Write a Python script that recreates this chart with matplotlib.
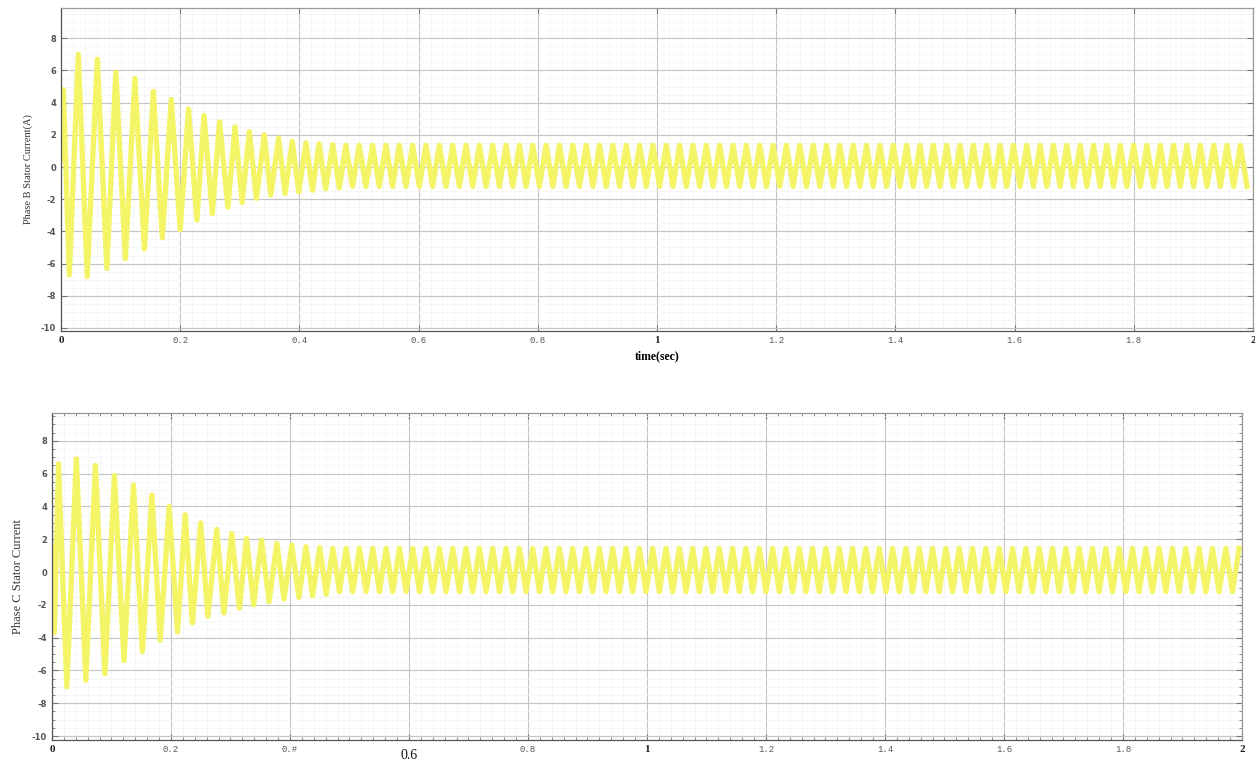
import numpy as np
import matplotlib
matplotlib.use("Agg")
import matplotlib.pyplot as plt
from matplotlib.ticker import MultipleLocator

plt.rcParams["axes.unicode_minus"] = False

# Phase B start-up current: positive peaks and negative troughs (time s, current A)
b_start = 0.5
b_peak_t = [0.004, 0.029, 0.061, 0.092, 0.124, 0.155, 0.185, 0.214, 0.240,
            0.266, 0.292, 0.316, 0.341, 0.365, 0.388, 0.411, 0.433, 0.456]
b_peak_i = [4.8, 7.0, 6.7, 5.9, 5.5, 4.7, 4.2, 3.6, 3.2,
            2.8, 2.5, 2.2, 2.0, 1.8, 1.6, 1.5, 1.45, 1.4]
b_trough_t = [0.014, 0.044, 0.077, 0.108, 0.140, 0.170, 0.200, 0.228, 0.254,
              0.280, 0.304, 0.328, 0.352, 0.376, 0.399, 0.422, 0.444, 0.467]
b_trough_i = [-6.7, -6.8, -6.3, -5.7, -5.1, -4.4, -3.9, -3.3, -2.9,
              -2.5, -2.2, -1.95, -1.75, -1.65, -1.55, -1.45, -1.35, -1.3]
b_steady = (0.478, 1.35, -1.2)   # first steady peak time, peak, trough

# Phase C start-up current
c_start = 1.5
c_peak_t = [0.011, 0.041, 0.073, 0.105, 0.137, 0.168, 0.197, 0.224, 0.250,
            0.277, 0.302, 0.327, 0.352, 0.378, 0.403, 0.427, 0.450]
c_peak_i = [6.6, 6.9, 6.5, 5.9, 5.3, 4.7, 4.0, 3.5, 3.0,
            2.6, 2.35, 2.05, 1.95, 1.75, 1.65, 1.55, 1.5]
c_trough_t = [0.004, 0.025, 0.057, 0.089, 0.121, 0.152, 0.182, 0.211, 0.236,
              0.262, 0.289, 0.315, 0.339, 0.365, 0.390, 0.415, 0.438, 0.461]
c_trough_i = [-3.7, -7.0, -6.6, -6.2, -5.4, -4.85, -4.15, -3.65, -3.1,
              -2.7, -2.5, -2.2, -2.0, -1.8, -1.65, -1.55, -1.45, -1.35]
c_steady = (0.472, 1.45, -1.2)

half_period = 0.0112
t_end = 2.0

xticks = [0, 0.2, 0.4, 0.6, 0.8, 1.0, 1.2, 1.4, 1.6, 1.8, 2.0]
b_xlabels = ["0", "0.2", "0.4", "0.6", "0.8", "1", "1.2", "1.4", "1.6", "1.8", "2"]
c_xlabels = ["0", "0.2", "0.#", "0.6", "0.8", "1", "1.2", "1.4", "1.6", "1.8", "2"]
yticks = [-10, -8, -6, -4, -2, 0, 2, 4, 6, 8]

WAVE = "#f4f467"


def build_trace(i0, peak_t, peak_i, trough_t, trough_i, steady):
    t = np.r_[0.0, peak_t, trough_t]
    i = np.r_[i0, peak_i, trough_i]
    order = np.argsort(t)
    ss_t = np.arange(steady[0], t_end + 1e-9, half_period)
    ss_i = np.where(np.arange(len(ss_t)) % 2 == 0, steady[1], steady[2])
    return np.r_[t[order], ss_t], np.r_[i[order], ss_i]


def style_axes(ax, labels, minor_ticks):
    ax.set_xlim(0, 2)
    ax.set_xticks(xticks)
    ax.set_xticklabels(labels)
    ax.set_yticks(yticks)
    ax.xaxis.set_minor_locator(MultipleLocator(0.02))
    ax.yaxis.set_minor_locator(MultipleLocator(0.5))
    ax.grid(which="major", color="#c4c4c4", lw=0.8)
    ax.grid(which="minor", color="#f3f3f3", lw=0.5)
    ax.set_axisbelow(True)
    ax.tick_params(which="both", direction="in", top=True, right=True,
                   colors="#777777", labelcolor="#555555")
    ax.tick_params(which="major", length=4, width=0.8)
    if minor_ticks:
        ax.tick_params(which="minor", length=2.5, width=0.6)
    else:
        ax.tick_params(which="minor", length=0)
    for lab in ax.get_xticklabels():
        lab.set_family("Liberation Mono")
        lab.set_fontsize(6.5)
    for lab in ax.get_yticklabels():
        lab.set_family("DejaVu Sans")
        lab.set_fontweight("bold")
        lab.set_fontsize(6)
    # integer seconds come out in a heavier serif face
    for k in (0, 5, 10):
        lab = ax.get_xticklabels()[k]
        lab.set_family("Liberation Serif")
        lab.set_fontweight("bold")
        lab.set_fontsize(8)
        lab.set_color("#222222")
    for side, spine in ax.spines.items():
        spine.set_color("#555555" if side in ("left", "bottom") else "#999999")
        spine.set_linewidth(0.9)


fig = plt.figure(figsize=(12.55, 7.62), dpi=100)
ax1 = fig.add_axes([0.0486, 0.5656, 0.9498, 0.4239])
ax2 = fig.add_axes([0.0414, 0.0289, 0.9482, 0.4291])

tb, ib = build_trace(b_start, b_peak_t, b_peak_i, b_trough_t, b_trough_i, b_steady)
tc, ic = build_trace(c_start, c_peak_t, c_peak_i, c_trough_t, c_trough_i, c_steady)

ax1.plot(tb, ib, color=WAVE, lw=3.8, solid_joinstyle="round")
ax1.set_ylim(-10.19, 9.88)
style_axes(ax1, b_xlabels, minor_ticks=False)
ax1.set_ylabel("Phase B Stator Current(A)", family="Liberation Serif",
               fontsize=7.5, color="#333333", labelpad=6)
ax1.set_xlabel("time(sec)", family="Liberation Serif", fontweight="bold",
               fontsize=8.5, labelpad=4)

ax2.plot(tc, ic, color=WAVE, lw=3.8, solid_joinstyle="round")
ax2.set_ylim(-10.24, 9.7)
style_axes(ax2, c_xlabels, minor_ticks=True)
ax2.set_ylabel("Phase C Stator Current", family="Liberation Serif",
               fontsize=9, color="#333333", labelpad=6)
# the 0.6 label on the lower plot is set in a larger plain serif
lab = ax2.get_xticklabels()[3]
lab.set_family("Liberation Serif")
lab.set_fontsize(10)
lab.set_color("#111111")
lab.set_y(-0.012)

fig.savefig("out.png", dpi=100, facecolor="white")
